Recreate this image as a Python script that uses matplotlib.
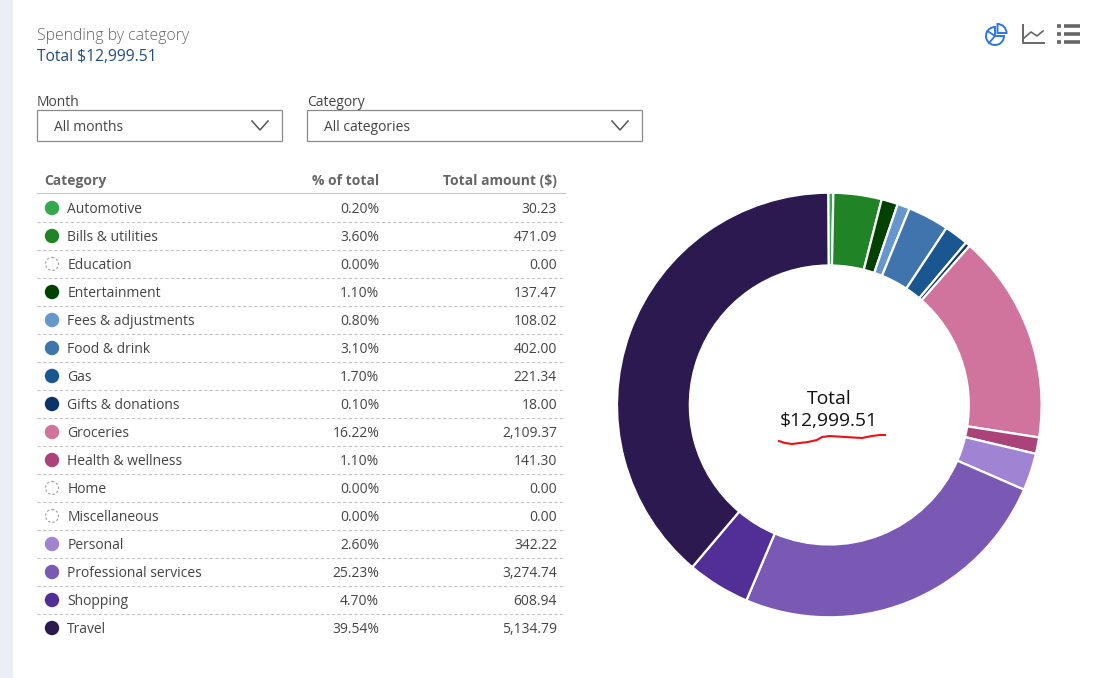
import matplotlib
matplotlib.use("Agg")
import matplotlib.pyplot as plt
from matplotlib.patches import Circle, Rectangle, Wedge

plt.rcParams['font.family'] = ['Open Sans', 'DejaVu Sans']

categories = ["Automotive", "Bills & utilities", "Education", "Entertainment",
              "Fees & adjustments", "Food & drink", "Gas", "Gifts & donations",
              "Groceries", "Health & wellness", "Home", "Miscellaneous",
              "Personal", "Professional services", "Shopping", "Travel"]
percents = ["0.20%", "3.60%", "0.00%", "1.10%", "0.80%", "3.10%", "1.70%", "0.10%",
            "16.22%", "1.10%", "0.00%", "0.00%", "2.60%", "25.23%", "4.70%", "39.54%"]
amounts = [30.23, 471.09, 0.00, 137.47, 108.02, 402.00, 221.34, 18.00,
           2109.37, 141.30, 0.00, 0.00, 342.22, 3274.74, 608.94, 5134.79]
# slice sizes as measured on the donut in the picture (degrees)
slice_degrees = [1.4, 13.2, 0.0, 4.5, 3.4, 11.3, 6.6, 1.3,
                 57.4, 4.5, 0.0, 0.0, 10.2, 89.5, 17.2, 139.5]
colors = ["#34A84C", "#208326", "#FFFFFF", "#034103", "#6596CC", "#3F74AD", "#1A5690", "#0C3468",
          "#D1749D", "#A9437A", "#FFFFFF", "#FFFFFF", "#A084D3", "#7A59B5", "#512F96", "#2C194F"]
total_label = "$12,999.51"

W, H = 1103, 678
fig = plt.figure(figsize=(W / 100, H / 100), dpi=100, facecolor="white")
bg = fig.add_axes([0, 0, 1, 1])
bg.set_xlim(0, W)
bg.set_ylim(H, 0)
bg.axis("off")

TXT = "#444444"
bg.add_patch(Rectangle((0, 0), 13, H, fc="#EBEFF3", ec="none"))
bg.text(37, 35.5, "Spending by category", fontsize=11.4, color="#666666", va="center", fontweight="light")
bg.text(37, 57, "Total " + total_label, fontsize=11.25, color="#1F4F7F", va="center")

for x, w, lab, val in [(37, 246, "Month", "All months"), (307, 336, "Category", "All categories")]:
    bg.text(x, 102, lab, fontsize=10, color=TXT, va="center")
    bg.add_patch(Rectangle((x, 110), w - 1, 31, fc="white", ec="#8A8A8A", lw=.9))
    bg.text(x + 16.5, 127.6, val, fontsize=10, color=TXT, va="center")
    cx_arrow = x + w - 23
    bg.plot([cx_arrow - 8, cx_arrow, cx_arrow + 8], [121, 130, 121], color="#555555", lw=1.1)

y0, dy = 208, 28
bg.text(44.5, 181, "Category", fontsize=10, color="#666666", fontweight="bold", va="center")
bg.text(379, 181, "% of total", fontsize=10, color="#666666", fontweight="bold", va="center", ha="right")
bg.text(557, 181, "Total amount ($)", fontsize=10, color="#666666", fontweight="bold", va="center", ha="right")
bg.plot([37, 565], [193, 193], color="#C8C8C8", lw=.8)

for i, (c, p, a, col) in enumerate(zip(categories, percents, amounts, colors)):
    y = y0 + i * dy
    if a > 0:
        bg.add_patch(Circle((52, y), 7.2, fc=col, ec="none"))
    else:
        bg.add_patch(Circle((52, y), 6.5, fc="white", ec="#999999", lw=.8, ls=(0, (2, 2))))
    bg.text(67.2, y + 1.7, c, fontsize=10, color=TXT, va="center")
    bg.text(379.3, y + 1.7, p, fontsize=10, color=TXT, va="center", ha="right")
    bg.text(557, y + 1.7, f"{a:,.2f}", fontsize=10, color=TXT, va="center", ha="right")
    if i < len(categories) - 1:
        bg.plot([37, 565], [y + 13.5, y + 13.5], color="#C4C4C4", lw=.8, ls=(0, (3, 2)))

# Donut
cx, cy, R = 829.3, 405, 212.3
pie_ax = fig.add_axes([(cx - R) / W, 1 - (cy + R) / H, 2 * R / W, 2 * R / H])
pie_vals = [d for d in slice_degrees if d > 0]
pie_cols = [c for d, c in zip(slice_degrees, colors) if d > 0]
pie_ax.pie(pie_vals, colors=pie_cols, startangle=90.3, counterclock=False, radius=1,
           wedgeprops=dict(width=72.8 / 212.3, edgecolor="white", linewidth=1.6))
pie_ax.set_xlim(-1, 1)
pie_ax.set_ylim(-1, 1)
pie_ax.set_aspect("equal")
pie_ax.patch.set_alpha(0)

top = fig.add_axes([0, 0, 1, 1])
top.set_xlim(0, W)
top.set_ylim(H, 0)
top.axis("off")
top.patch.set_alpha(0)
top.text(829, 399, "Total", fontsize=13.9, color="#111111", ha="center", va="center")
top.text(828.5, 421, total_label, fontsize=13.9, color="#111111", ha="center", va="center")
top.plot([779, 785, 792, 800, 808, 817, 822, 830, 845, 862, 872, 880, 885],
         [441, 443, 444, 443, 442, 440, 437, 436, 437, 438, 436, 435, 435],
         color="#EE1111", lw=1.5)

# Icons
blue = "#2A75E8"
top.add_patch(Wedge((995, 36), 9, 0, 270, fc="none", ec=blue, lw=1.4))
top.add_patch(Wedge((997.5, 33), 9, 270, 360, fc="none", ec=blue, lw=1.4))
top.plot([995, 987.5], [36, 31], color=blue, lw=1.3)
top.plot([995, 989], [36, 43], color=blue, lw=1.3)
grey = "#666666"
top.plot([1022.5, 1022.5, 1044], [25, 43, 43], color=grey, lw=1.4)
top.plot([1024, 1031, 1037, 1043], [38, 32, 36, 31], color=grey, lw=1.2)
for y in (26, 34, 42):
    top.plot([1057, 1060.5], [y, y], color=grey, lw=2.6, solid_capstyle="butt")
    top.plot([1064, 1080], [y, y], color=grey, lw=2.6, solid_capstyle="butt")

fig.savefig("out.png", dpi=100, facecolor="white")
